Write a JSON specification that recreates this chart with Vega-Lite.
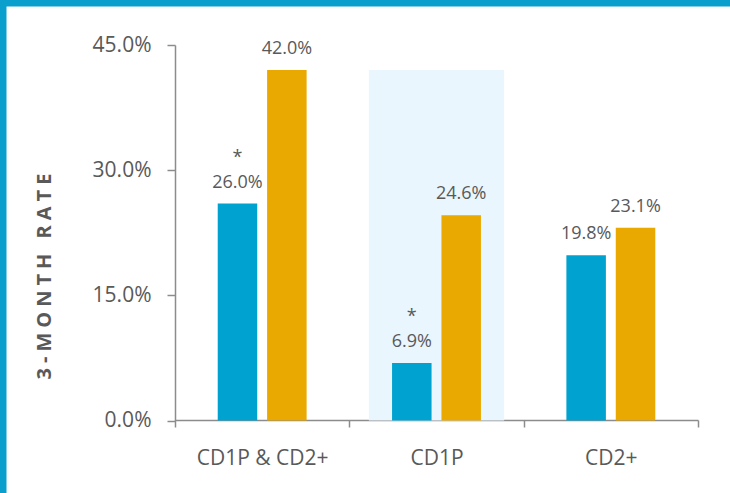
{
  "$schema": "https://vega.github.io/schema/vega-lite/v6.json",
  "width": 730,
  "height": 493,
  "autosize": {"type": "none"},
  "padding": 0,
  "background": "white",
  "config": {
    "view": {"stroke": "#0A9FCC", "strokeWidth": 13, "strokeDash": [730, 1223, 493]},
    "font": "Open Sans",
    "axis": {
      "labelFont": "Open Sans",
      "titleFont": "Open Sans",
      "labelColor": "#595959",
      "titleColor": "#595959",
      "domainColor": "#8C8C8C",
      "tickColor": "#8C8C8C",
      "domainWidth": 1.5,
      "tickWidth": 1.5,
      "grid": false
    }
  },
  "data": {
    "values": [
      {"category": "CD1P & CD2+", "series": "Intervention", "value": 0.26, "sig": "*"},
      {"category": "CD1P & CD2+", "series": "Comparison", "value": 0.42, "sig": ""},
      {"category": "CD1P", "series": "Intervention", "value": 0.069, "sig": "*"},
      {"category": "CD1P", "series": "Comparison", "value": 0.246, "sig": ""},
      {"category": "CD2+", "series": "Intervention", "value": 0.198, "sig": ""},
      {"category": "CD2+", "series": "Comparison", "value": 0.231, "sig": ""}
    ]
  },
  "encoding": {
    "x": {
      "field": "category",
      "type": "nominal",
      "sort": ["CD1P & CD2+", "CD1P", "CD2+"],
      "scale": {"range": [175, 698], "paddingInner": 0, "paddingOuter": 0},
      "axis": {
        "title": null,
        "orient": "bottom",
        "offset": -73,
        "labelAngle": 0,
        "labelFontSize": 21,
        "tickSize": 7,
        "labelPadding": 20,
        "tickBand": "extent"
      }
    },
    "y": {
      "field": "value",
      "type": "quantitative",
      "scale": {"domain": [0, 0.45], "range": [420.5, 45], "nice": false, "zero": true},
      "axis": {
        "title": "3\u2005-\u2005M\u2005O\u2005N\u2005T\u2005H\u2005 \u2005R\u2005A\u2005T\u2005E",
        "orient": "left",
        "offset": -175,
        "values": [0, 0.15, 0.3, 0.45],
        "format": ".1%",
        "labelFontSize": 21,
        "tickSize": 8,
        "labelPadding": 16,
        "titleFontSize": 20,
        "titleFontWeight": "bold",
        "titlePadding": 38,
        "titleY": 276
      }
    }
  },
  "layer": [
    {
      "transform": [
        {"joinaggregate": [{"op": "max", "field": "value", "as": "peak"}]},
        {"filter": "datum.category === 'CD1P'"}
      ],
      "mark": {"type": "bar", "color": "#EAF6FD", "width": {"band": 0.776}},
      "encoding": {
        "y": {
          "aggregate": "max",
          "field": "peak",
          "type": "quantitative",
          "scale": {"domain": [0, 0.45], "range": [420.5, 45], "nice": false, "zero": true},
          "axis": {
            "title": "3\u2005-\u2005M\u2005O\u2005N\u2005T\u2005H\u2005 \u2005R\u2005A\u2005T\u2005E",
            "orient": "left",
            "offset": -175,
            "values": [0, 0.15, 0.3, 0.45],
            "format": ".1%",
            "labelFontSize": 21,
            "tickSize": 8,
            "labelPadding": 16,
            "titleFontSize": 20,
            "titleFontWeight": "bold",
            "titlePadding": 38,
            "titleY": 276
          }
        }
      }
    },
    {
      "mark": {"type": "bar"},
      "encoding": {
        "xOffset": {
          "field": "series",
          "type": "nominal",
          "sort": ["Intervention", "Comparison"],
          "scale": {"paddingInner": 0.2, "paddingOuter": 0.865}
        },
        "color": {
          "field": "series",
          "type": "nominal",
          "scale": {"domain": ["Intervention", "Comparison"], "range": ["#00A2CF", "#E9A900"]},
          "legend": null
        }
      }
    },
    {
      "mark": {"type": "text", "dy": -21, "baseline": "middle", "fontSize": 18, "color": "#595959"},
      "encoding": {
        "xOffset": {
          "field": "series",
          "type": "nominal",
          "sort": ["Intervention", "Comparison"],
          "scale": {"paddingInner": 0.2, "paddingOuter": 0.865}
        },
        "text": {"field": "value", "type": "quantitative", "format": ".1%"}
      }
    },
    {
      "transform": [{"filter": "datum.sig === '*'"}],
      "mark": {"type": "text", "dy": -46, "baseline": "middle", "fontSize": 18, "color": "#595959"},
      "encoding": {
        "xOffset": {
          "field": "series",
          "type": "nominal",
          "sort": ["Intervention", "Comparison"],
          "scale": {"paddingInner": 0.2, "paddingOuter": 0.865}
        },
        "text": {"field": "sig"}
      }
    }
  ]
}
